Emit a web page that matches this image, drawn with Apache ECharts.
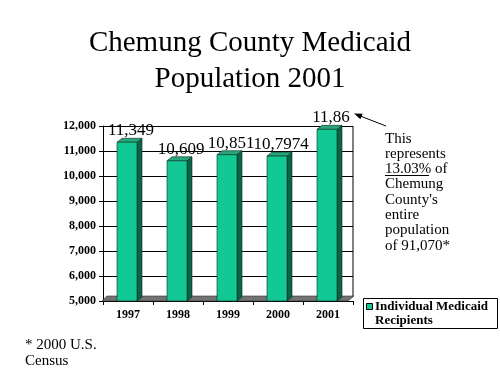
<!DOCTYPE html>
<html>
<head>
<meta charset="utf-8">
<script src="https://cdn.jsdelivr.net/npm/echarts@6/dist/echarts.min.js"></script>
<style>
  html, body { margin: 0; padding: 0; background: #fff; }
  #main { width: 500px; height: 375px; }
</style>
</head>
<body>
<div id="main"></div>
<script>
// data
var years = ['1997', '1998', '1999', '2000', '2001'];
var recipients = [11349, 10609, 10851, 10797, 11866];
var barLabels = ['11,349', '10,609', '10,851', '10,7974', '11,86'];
var yMin = 5000, yMax = 12000, yStep = 1000;
var noteLines = ['This', 'represents', '13.03% of', 'Chemung', "County's", 'entire', 'population', 'of 91,070*'];

var serif = '"Liberation Serif", "Times New Roman", serif';
var front = '#12c894', side = '#0a6446', topFace = '#27a67c';

var chart = echarts.init(document.getElementById('main'), null, { renderer: 'canvas' });

function withCommas(v) {
  return String(v).replace(/\B(?=(\d{3})+(?!\d))/g, ',');
}

// 3d-ish bar: front face, right side, top face + value label
function renderBar(params, api) {
  var i = api.value(0), v = api.value(1);
  var top = api.coord([i, v]);
  var base = api.coord([i, yMin]);
  var w = 20, dx = 5, dy = 4;
  var x0 = top[0] - w / 2 - 1;
  var x1 = x0 + w;
  return {
    type: 'group',
    children: [
      {
        type: 'polygon',
        shape: { points: [[x1, top[1]], [x1 + dx, top[1] - dy], [x1 + dx, base[1] - dy], [x1, base[1]]] },
        style: { fill: side, stroke: '#0b2a1e', lineWidth: 0.6 }
      },
      {
        type: 'polygon',
        shape: { points: [[x0, top[1]], [x0 + dx, top[1] - dy], [x1 + dx, top[1] - dy], [x1, top[1]]] },
        style: { fill: topFace, stroke: '#0b2a1e', lineWidth: 0.6 }
      },
      {
        type: 'rect',
        shape: { x: x0, y: top[1], width: w, height: base[1] - top[1] },
        style: { fill: front, stroke: '#0b2a1e', lineWidth: 0.6 }
      },
      {
        type: 'text',
        style: {
          text: barLabels[params.dataIndex],
          x: top[0] + 3, y: top[1] - 3,
          align: 'center', verticalAlign: 'bottom',
          fontFamily: serif, fontSize: 17, fill: '#000'
        }
      }
    ]
  };
}

var option = {
  backgroundColor: '#fff',
  animation: false,
  title: {
    text: 'Chemung County Medicaid\nPopulation 2001',
    left: 'center',
    top: 20,
    textStyle: { fontFamily: serif, fontSize: 29, fontWeight: 'normal', color: '#000', lineHeight: 36 }
  },
  grid: { left: 103, right: 147, top: 126, bottom: 74 },
  xAxis: {
    type: 'category',
    data: years,
    axisLine: { show: false },
    axisTick: { show: true, length: 4, lineStyle: { color: '#000' } },
    axisLabel: { margin: 8, fontFamily: serif, fontSize: 12, fontWeight: 'bold', color: '#000' }
  },
  yAxis: {
    type: 'value',
    min: yMin, max: yMax, interval: yStep,
    axisLine: { show: true, lineStyle: { color: '#000' } },
    axisTick: { show: true, length: 4, lineStyle: { color: '#000' } },
    axisLabel: { margin: 7, fontFamily: serif, fontSize: 12, fontWeight: 'bold', color: '#000', formatter: withCommas },
    splitLine: { show: true, lineStyle: { color: '#000', width: 1 } }
  },
  series: [{
    type: 'custom',
    name: 'Individual Medicaid Recipients',
    renderItem: renderBar,
    encode: { x: 0, y: 1 },
    data: recipients.map(function (v, i) { return [i, v]; }),
    z: 5
  }],
  graphic: [
    // floor
    { type: 'polygon', z: 1, shape: { points: [[102, 301], [348, 301], [354, 296], [107, 296]] }, style: { fill: '#737373', stroke: '#333', lineWidth: 0.6 } },
    // right edge of back wall
    { type: 'line', z: 1, shape: { x1: 353, y1: 126, x2: 353, y2: 296 }, style: { stroke: '#000', lineWidth: 1 } },
    // arrow to the 2001 label
    { type: 'line', shape: { x1: 386, y1: 126, x2: 359, y2: 115.5 }, style: { stroke: '#000', lineWidth: 1 } },
    { type: 'polygon', shape: { points: [[354, 113.5], [362.6, 113.7], [360.4, 119.3]] }, style: { fill: '#000' } },
    // note on the right
    {
      type: 'text', left: 385, top: 131,
      style: { text: noteLines.join('\n'), fontFamily: serif, fontSize: 15, lineHeight: 15.3, fill: '#000' }
    },
    { type: 'line', shape: { x1: 385, y1: 175.5, x2: 429, y2: 175.5 }, style: { stroke: '#000', lineWidth: 1 } },
    // legend box
    { type: 'rect', shape: { x: 363.5, y: 298.5, width: 134, height: 30 }, style: { fill: '#fff', stroke: '#000', lineWidth: 1 } },
    { type: 'rect', shape: { x: 366.5, y: 303.5, width: 6, height: 6 }, style: { fill: front, stroke: '#000', lineWidth: 1 } },
    {
      type: 'text', left: 375, top: 299,
      style: { text: 'Individual Medicaid\nRecipients', fontFamily: serif, fontSize: 13, fontWeight: 'bold', lineHeight: 14.5, fill: '#000' }
    },
    // footnote
    {
      type: 'text', left: 25, top: 337,
      style: { text: '* 2000 U.S.\nCensus', fontFamily: serif, fontSize: 15, lineHeight: 16, fill: '#000' }
    }
  ]
};

chart.setOption(option);
</script>
</body>
</html>
